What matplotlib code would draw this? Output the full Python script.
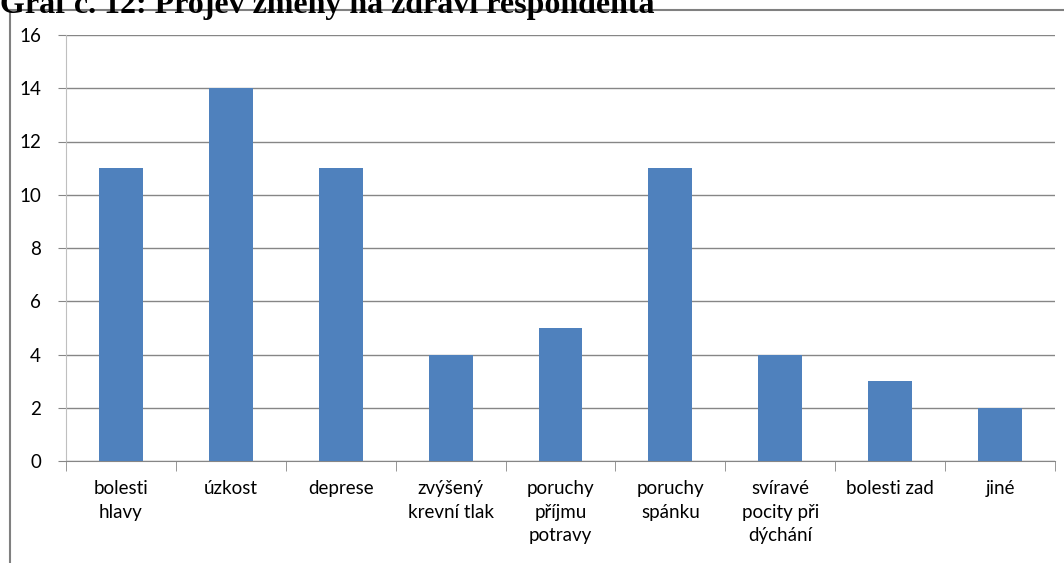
import matplotlib.pyplot as plt
from matplotlib.lines import Line2D
import numpy as np

kategorie = ['bolesti\nhlavy', 'úzkost', 'deprese', 'zvýšený\nkrevní tlak',
             'poruchy\npříjmu\npotravy', 'poruchy\nspánku',
             'svíravé\npocity při\ndýchání', 'bolesti zad', 'jiné']
pocty = [11, 14, 11, 4, 5, 11, 4, 3, 2]
nadpis = 'Graf č. 12: Projev změny na zdraví respondenta'

W, H = 1064, 563
fig = plt.figure(figsize=(W / 100, H / 100), dpi=100)
ax = fig.add_axes([66 / W, (H - 461) / H, (1055 - 66) / W, (461 - 35) / H])

x = np.arange(len(pocty))
ax.bar(x, pocty, width=0.4, color='#4F81BD', zorder=3)

ax.set_xlim(-0.5, len(pocty) - 0.5)
ax.set_ylim(0, 16)
ax.set_yticks(range(0, 17, 2))
ax.yaxis.grid(True, color='#868686', lw=1, zorder=0)
ax.tick_params(axis='y', length=6, color='#868686', labelsize=13.5, pad=12)

# popisky kategorii bez tick car, ticky na hranicich
ax.set_xticks(x)
ax.set_xticklabels(kategorie, fontsize=13.5, linespacing=1.45, va='top')
ax.tick_params(axis='x', length=0, pad=14)
ax.set_xticks(np.arange(-0.5, len(pocty)), minor=True)
ax.tick_params(axis='x', which='minor', length=7, color='#868686')

for s in ['top', 'right']:
    ax.spines[s].set_visible(False)
ax.spines['left'].set_color('#BFBFBF')
ax.spines['bottom'].set_color('#868686')
ax.spines['left'].set_bounds(0, 16)

for lab in ax.get_xticklabels() + ax.get_yticklabels():
    lab.set_family('Lato')

# ramecek grafu
fig.add_artist(Line2D([10 / W, 10 / W], [0, 1 - 10 / H], color='#808080', lw=1.5))
fig.add_artist(Line2D([10 / W, 1], [1 - 10 / H, 1 - 10 / H], color='#808080', lw=1.5))

fig.text(0.0, 1 - 13 / H, nadpis, family='Liberation Serif', weight='bold',
         fontsize=23, va='baseline', ha='left')

fig.savefig('out.png', dpi=100)
